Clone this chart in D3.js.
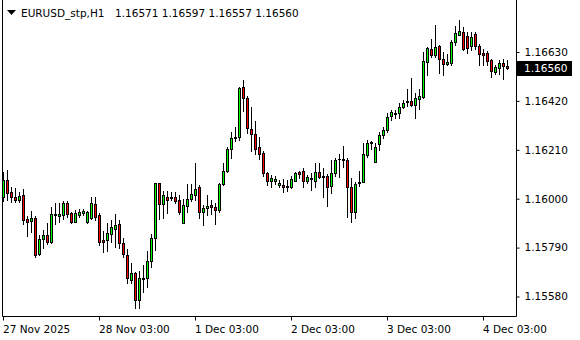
<!DOCTYPE html>
<html>
<head>
<meta charset="utf-8">
<script src="https://cdn.jsdelivr.net/npm/d3@7"></script>
<style>
  body { margin: 0; background: #fff; }
  svg { display: block; }
</style>
</head>
<body>
<div id="chart"></div>
<script>
// EURUSD_stp H1 bars, oldest first
const symbolTitle = "EURUSD_stp,H1";

const opens = [
  1.16007,1.16080,1.16028,1.16007,1.15996,1.16016,1.15912,1.15906,1.15916,1.15763,
  1.15829,1.15846,1.15815,1.15930,1.15927,1.15929,1.15982,1.15939,1.15901,1.15930,
  1.15937,1.15899,1.15919,1.15976,1.15929,1.15823,1.15823,1.15847,1.15871,1.15891,
  1.15809,1.15758,1.15651,1.15680,1.15567,1.15654,1.15658,1.15733,1.15830,1.16066,
  1.15976,1.16007,1.16002,1.16006,1.15995,1.15897,1.15967,1.15997,1.16018,1.16050,
  1.15942,1.15959,1.15972,1.15963,1.15953,1.16062,1.16119,1.16214,1.16259,1.16264,
  1.16478,1.16431,1.16299,1.16277,1.16221,1.16195,1.16110,1.16075,1.16077,1.16058,
  1.16060,1.16056,1.16049,1.16077,1.16115,1.16118,1.16077,1.16089,1.16077,1.16115,
  1.16096,1.16096,1.16053,1.16110,1.16172,1.16169,1.16166,1.16049,1.15944,1.16066,
  1.16073,1.16188,1.16238,1.16159,1.16234,1.16272,1.16295,1.16357,1.16365,1.16367,
  1.16395,1.16415,1.16420,1.16402,1.16429,1.16438,1.16588,1.16643,1.16618,1.16654,
  1.16601,1.16580,1.16584,1.16673,1.16704,1.16716,1.16697,1.16654,1.16706,1.16656,
  1.16624,1.16627,1.16594,1.16544,1.16563,1.16584,1.16571
];
const highs = [
  1.16116,1.16123,1.16052,1.16046,1.16030,1.16040,1.15926,1.15947,1.15925,1.15844,
  1.15864,1.15896,1.15964,1.15982,1.15982,1.15992,1.15990,1.15944,1.15952,1.15954,
  1.15956,1.15949,1.16009,1.16009,1.15939,1.15861,1.15894,1.15909,1.15934,1.15909,
  1.15830,1.15784,1.15723,1.15687,1.15690,1.15715,1.15775,1.15848,1.16067,1.16067,
  1.16033,1.16035,1.16030,1.16030,1.16014,1.15997,1.16063,1.16063,1.16152,1.16059,
  1.15973,1.16016,1.15995,1.15980,1.16066,1.16152,1.16223,1.16288,1.16309,1.16478,
  1.16510,1.16440,1.16394,1.16334,1.16266,1.16205,1.16116,1.16102,1.16098,1.16080,
  1.16086,1.16080,1.16098,1.16115,1.16120,1.16132,1.16102,1.16110,1.16153,1.16152,
  1.16132,1.16106,1.16166,1.16174,1.16192,1.16226,1.16174,1.16088,1.16073,1.16120,
  1.16238,1.16252,1.16249,1.16238,1.16288,1.16307,1.16367,1.16381,1.16381,1.16410,
  1.16424,1.16470,1.16517,1.16453,1.16470,1.16629,1.16653,1.16685,1.16745,1.16659,
  1.16630,1.16623,1.16680,1.16740,1.16766,1.16737,1.16716,1.16716,1.16716,1.16666,
  1.16642,1.16633,1.16601,1.16575,1.16594,1.16601,1.16597
];
const lows = [
  1.15990,1.15995,1.15986,1.15984,1.15984,1.15891,1.15840,1.15857,1.15751,1.15758,
  1.15788,1.15806,1.15809,1.15891,1.15900,1.15913,1.15922,1.15896,1.15898,1.15923,
  1.15930,1.15894,1.15913,1.15909,1.15801,1.15772,1.15777,1.15815,1.15791,1.15787,
  1.15748,1.15639,1.15637,1.15529,1.15529,1.15599,1.15621,1.15707,1.15780,1.15913,
  1.15917,1.15940,1.15995,1.15982,1.15934,1.15894,1.15943,1.15988,1.15995,1.15915,
  1.15887,1.15930,1.15933,1.15891,1.15944,1.16059,1.16116,1.16174,1.16249,1.16252,
  1.16378,1.16284,1.16203,1.16192,1.16171,1.16098,1.16059,1.16052,1.16063,1.16050,
  1.16029,1.16034,1.16046,1.16076,1.16089,1.16049,1.16067,1.16037,1.16049,1.16089,
  1.16009,1.15970,1.16025,1.16098,1.16095,1.16135,1.15923,1.15901,1.15916,1.16055,
  1.16071,1.16180,1.16212,1.16156,1.16209,1.16259,1.16288,1.16338,1.16345,1.16348,
  1.16388,1.16398,1.16398,1.16348,1.16384,1.16431,1.16531,1.16609,1.16609,1.16541,
  1.16530,1.16573,1.16573,1.16659,1.16702,1.16637,1.16627,1.16637,1.16644,1.16575,
  1.16575,1.16575,1.16523,1.16537,1.16537,1.16515,1.16557
];
const closes = [
  1.16080,1.16023,1.16006,1.15996,1.16012,1.15910,1.15902,1.15916,1.15758,1.15826,
  1.15846,1.15814,1.15934,1.15934,1.15934,1.15982,1.15933,1.15900,1.15937,1.15941,
  1.15947,1.15941,1.15980,1.15923,1.15815,1.15815,1.15851,1.15877,1.15886,1.15809,
  1.15761,1.15658,1.15680,1.15567,1.15658,1.15658,1.15733,1.15830,1.16066,1.15976,
  1.16015,1.15996,1.16006,1.15992,1.15941,1.15973,1.15998,1.16020,1.16042,1.15942,
  1.15959,1.15970,1.15963,1.15953,1.16062,1.16119,1.16212,1.16262,1.16265,1.16474,
  1.16431,1.16302,1.16276,1.16212,1.16190,1.16110,1.16076,1.16089,1.16086,1.16067,
  1.16049,1.16049,1.16086,1.16110,1.16108,1.16077,1.16092,1.16083,1.16115,1.16092,
  1.16093,1.16052,1.16110,1.16168,1.16169,1.16166,1.16049,1.15944,1.16063,1.16071,
  1.16191,1.16238,1.16242,1.16221,1.16274,1.16295,1.16352,1.16372,1.16368,1.16395,
  1.16410,1.16418,1.16401,1.16431,1.16441,1.16591,1.16647,1.16619,1.16651,1.16601,
  1.16580,1.16587,1.16673,1.16712,1.16720,1.16644,1.16647,1.16694,1.16654,1.16620,
  1.16618,1.16593,1.16547,1.16566,1.16584,1.16569,1.16560
];

// time axis labels sit on these bar indexes
const xTickIdx = [0, 24, 48, 72, 96, 120];
const xTickLabels = ["27 Nov 2025", "28 Nov 03:00", "1 Dec 03:00", "2 Dec 03:00", "3 Dec 03:00", "4 Dec 03:00"];
const yTicks = [1.15580, 1.15790, 1.16000, 1.16210, 1.16420, 1.16630];

const width = 580;
const height = 340;
const plot = { left: 2, right: 516, bottom: 316 };
const font = "Tahoma, 'DejaVu Sans', sans-serif";

const bars = opens.map((o, i) => ({ i, o, h: highs[i], l: lows[i], c: closes[i] }));
const last = bars[bars.length - 1];

const svg = d3.select("#chart")
  .append("svg")
  .attr("width", width)
  .attr("height", height)
  .style("font-family", font);

const x = d3.scaleLinear()
  .domain([0, bars.length - 1])
  .range([3.3, 3.3 + 4 * (bars.length - 1)]);

const y = d3.scaleLinear()
  .domain([1.15580, 1.16630])
  .range([296.5, 52]);

const px = v => Math.round(v);

// frame
svg.append("path")
  .attr("d", `M${plot.left + 0.5},0V${plot.bottom + 0.5}H${plot.right + 0.5}V0`)
  .attr("fill", "none")
  .attr("stroke", "#000");

// candles
const g = svg.append("g");

g.selectAll("line.wick")
  .data(bars)
  .join("line")
    .attr("class", "wick")
    .attr("x1", d => px(x(d.i)) + 0.5)
    .attr("x2", d => px(x(d.i)) + 0.5)
    .attr("y1", d => px(y(d.h)))
    .attr("y2", d => px(y(d.l)) + 1)
    .attr("stroke", "#000");

g.selectAll("rect.body")
  .data(bars.filter(d => Math.abs(px(y(d.o)) - px(y(d.c))) >= 1))
  .join("rect")
    .attr("class", "body")
    .attr("x", d => px(x(d.i)) - 0.5)
    .attr("y", d => px(y(Math.max(d.o, d.c))) + 0.5)
    .attr("width", 2)
    .attr("height", d => px(y(Math.min(d.o, d.c))) - px(y(Math.max(d.o, d.c))))
    .attr("fill", d => d.c >= d.o ? "#00ff00" : "#ff0000")
    .attr("stroke", "#000");

g.selectAll("line.doji")
  .data(bars.filter(d => Math.abs(px(y(d.o)) - px(y(d.c))) < 1))
  .join("line")
    .attr("class", "doji")
    .attr("x1", d => px(x(d.i)) - 1)
    .attr("x2", d => px(x(d.i)) + 2)
    .attr("y1", d => px(y(d.c)) + 0.5)
    .attr("y2", d => px(y(d.c)) + 0.5)
    .attr("stroke", "#000");

// price axis
const yAxis = svg.append("g")
  .attr("transform", `translate(${plot.right + 0.5},0)`)
  .call(d3.axisRight(y).tickValues(yTicks).tickSize(3).tickPadding(5).tickFormat(d3.format(".5f")));
yAxis.select(".domain").remove();
yAxis.selectAll("text").attr("font-size", "10.5px").attr("font-family", font).attr("fill", "#000");
yAxis.selectAll("line").attr("stroke", "#000");

// time axis
const xAxis = svg.append("g")
  .attr("transform", `translate(0,${plot.bottom + 0.5})`)
  .call(d3.axisBottom(x).tickValues(xTickIdx).tickSize(4)
    .tickFormat((d, k) => xTickLabels[k]));
xAxis.select(".domain").remove();
xAxis.selectAll(".tick").attr("transform", d => `translate(${px(x(d)) + 0.5},0)`);
xAxis.selectAll("line").attr("stroke", "#000");
xAxis.selectAll("text")
  .attr("text-anchor", "start")
  .attr("x", -0.5)
  .attr("y", 9)
  .attr("font-size", "10.5px")
  .attr("font-family", font)
  .attr("fill", "#000");

// current price marker
const yLast = y(last.c);
svg.append("rect")
  .attr("x", plot.right + 1)
  .attr("y", px(yLast) - 7)
  .attr("width", 55)
  .attr("height", 15)
  .attr("fill", "#000");
svg.append("text")
  .attr("x", plot.right + 8)
  .attr("y", yLast)
  .attr("dy", "0.36em")
  .attr("font-size", "10.5px")
  .attr("fill", "#fff")
  .text(d3.format(".5f")(last.c));

// title line
svg.append("path")
  .attr("d", "M7,10H16L11.5,15Z")
  .attr("fill", "#000");
svg.append("text")
  .attr("x", 21)
  .attr("y", 17)
  .attr("font-size", "10.5px")
  .attr("fill", "#000")
  .text(symbolTitle);
svg.append("text")
  .attr("x", 115)
  .attr("y", 17)
  .attr("font-size", "10.5px")
  .attr("fill", "#000")
  .text([last.o, last.h, last.l, last.c].map(d3.format(".5f")).join(" "));
</script>
</body>
</html>
